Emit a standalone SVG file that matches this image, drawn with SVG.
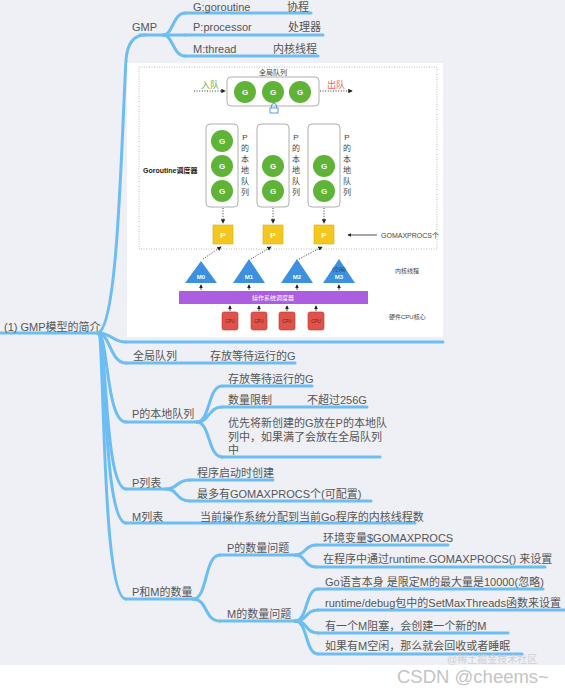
<svg xmlns="http://www.w3.org/2000/svg" width="565" height="691" viewBox="0 0 565 691">
<defs>
<style>
.t{font-family:"Liberation Sans","Noto Sans CJK SC",sans-serif;font-size:11px;fill:#555}
.br{fill:none;stroke:#6cbdf3;stroke-width:3;stroke-linecap:round}
.s{font-family:"Liberation Sans","Noto Sans CJK SC",sans-serif;fill:#444}
.g{fill:#5fb336}
.gt{font-family:"Liberation Sans",sans-serif;font-size:8px;font-weight:bold;fill:#fff;text-anchor:middle}
.q{fill:#fff;stroke:#9a9a9a;stroke-width:0.8}
.pb{fill:#f4c720;stroke:#d9ad10;stroke-width:0.6}
.tri{fill:#3d8fe0}
.cpu{fill:#e0534a;stroke:#b8372e;stroke-width:0.6}
.dot{fill:none;stroke:#222;stroke-width:0.9;stroke-dasharray:1 1.6}
.ar{fill:none;stroke:#222;stroke-width:0.8}
.v{font-family:"Liberation Sans","Noto Sans CJK SC",sans-serif;font-size:8px;fill:#444;text-anchor:middle}
</style>
<marker id="ah" viewBox="0 0 6 6" refX="5" refY="3" markerWidth="5" markerHeight="5" orient="auto"><path d="M0,0 L6,3 L0,6 z" fill="#222"/></marker>
</defs>
<rect x="0" y="0" width="565" height="665" fill="#eff0f5"/>
<rect x="0" y="665" width="565" height="26" fill="#fff"/>

<g id="connectors">
<path class="br" d="M98,333 C118,326 121,150 126,60 Q128,35 145,35"/>
<path class="br" d="M98,333 C112,333 112,342 126,342"/>
<path class="br" d="M98,333 C110,333 110,363 126,363"/>
<path class="br" d="M98,333 C108,333 106,422 126,422"/>
<path class="br" d="M98,333 C107,333 104,489 126,489"/>
<path class="br" d="M98,333 C106,333 103,523 126,523"/>
<path class="br" d="M98,333 C105,333 101,599 126,599"/>
<path class="br" d="M163,35 C173,35 173,13 185,13"/>
<path class="br" d="M163,35 L185,35"/>
<path class="br" d="M163,35 C173,35 173,56 185,56"/>
<path class="br" d="M197,422 C210,422 208,386 222,386"/>
<path class="br" d="M197,422 C210,422 208,407 222,407"/>
<path class="br" d="M197,422 C210,422 208,457 222,457"/>
<path class="br" d="M166,489 C178,489 176,480 190,480"/>
<path class="br" d="M166,489 C178,489 176,501 190,501"/>
<path class="br" d="M193,599 C208,599 204,555 220,555"/>
<path class="br" d="M193,599 C208,599 204,621 220,621"/>
<path class="br" d="M295,555 C306,555 304,545 316,545"/>
<path class="br" d="M295,555 C306,555 304,567 316,567"/>
<path class="br" d="M295,621 C308,621 305,589 318,589"/>
<path class="br" d="M295,621 C308,621 305,610 318,610"/>
<path class="br" d="M295,621 C308,621 305,633 318,633"/>
<path class="br" d="M295,621 C308,621 305,654 318,654"/>
</g>

<g id="root">
<line class="br" x1="1" y1="333" x2="98" y2="333"/>
<text class="t" x="4" y="331">(1) GMP模型的简介</text>
</g>

<g id="gmp">
<line class="br" x1="140" y1="35" x2="163" y2="35"/>
<text class="t" x="132" y="31">GMP</text>
</g>
<g id="g-goroutine">
<line class="br" x1="185" y1="13" x2="311" y2="13"/>
<text class="t" x="193" y="11">G:goroutine</text>
<text class="t" x="287" y="11">协程</text>
</g>
<g id="p-processor">
<line class="br" x1="185" y1="35" x2="323" y2="35"/>
<text class="t" x="193" y="31">P:processor</text>
<text class="t" x="288" y="31">处理器</text>
</g>
<g id="m-thread">
<line class="br" x1="185" y1="56" x2="318" y2="56"/>
<text class="t" x="193" y="53">M:thread</text>
<text class="t" x="273" y="53">内核线程</text>
</g>

<g id="image-node">
<line class="br" x1="126" y1="342" x2="443" y2="342"/>
<rect x="127" y="63" width="316" height="274" fill="#fff"/>
<rect x="139" y="67" width="298" height="182" fill="none" stroke="#aaa" stroke-width="0.8" stroke-dasharray="1 1.5"/>
<text class="s" x="273" y="75" font-size="7" text-anchor="middle">全局队列</text>
<rect class="q" x="227" y="77" width="92" height="29" rx="4"/>
<circle class="g" cx="245" cy="92" r="11"/><text class="gt" x="245" y="95">G</text>
<circle class="g" cx="273" cy="92" r="11"/><text class="gt" x="273" y="95">G</text>
<circle class="g" cx="300" cy="92" r="11"/><text class="gt" x="300" y="95">G</text>
<text class="s" x="201" y="88" font-size="9" style="fill:#6ab04c">入队</text>
<text class="s" x="327" y="88" font-size="9" style="fill:#f06464">出队</text>
<line class="dot" x1="194" y1="91" x2="225" y2="91" marker-end="url(#ah)"/>
<line class="dot" x1="320" y1="91" x2="352" y2="91" marker-end="url(#ah)"/>
<path d="M271.5,108 V106 A2.5,2.5 0 0 1 276.5,106 V108" fill="none" stroke="#4a90e2" stroke-width="0.9"/>
<rect x="270" y="108" width="8" height="5" fill="#fff" stroke="#4a90e2" stroke-width="0.9"/>
<text class="s" x="143" y="173" font-size="7" font-weight="bold" style="fill:#222">Goroutine调度器</text>
<rect class="q" x="206" y="124" width="32" height="83" rx="4"/>
<rect class="q" x="257" y="124" width="32" height="83" rx="4"/>
<rect class="q" x="308" y="124" width="32" height="83" rx="4"/>
<circle class="g" cx="222" cy="141" r="11"/><text class="gt" x="222" y="144">G</text>
<circle class="g" cx="222" cy="166" r="11"/><text class="gt" x="222" y="169">G</text>
<circle class="g" cx="222" cy="191" r="11"/><text class="gt" x="222" y="194">G</text>
<circle class="g" cx="273" cy="166" r="11"/><text class="gt" x="273" y="169">G</text>
<circle class="g" cx="273" cy="191" r="11"/><text class="gt" x="273" y="194">G</text>
<circle class="g" cx="324" cy="166" r="11"/><text class="gt" x="324" y="169">G</text>
<circle class="g" cx="324" cy="191" r="11"/><text class="gt" x="324" y="194">G</text>
<g class="v"><text x="245" y="140">P</text><text x="245" y="151">的</text><text x="245" y="162">本</text><text x="245" y="173">地</text><text x="245" y="184">队</text><text x="245" y="195">列</text></g>
<g class="v"><text x="296" y="140">P</text><text x="296" y="151">的</text><text x="296" y="162">本</text><text x="296" y="173">地</text><text x="296" y="184">队</text><text x="296" y="195">列</text></g>
<g class="v"><text x="347" y="140">P</text><text x="347" y="151">的</text><text x="347" y="162">本</text><text x="347" y="173">地</text><text x="347" y="184">队</text><text x="347" y="195">列</text></g>
<line class="dot" x1="223" y1="208" x2="223" y2="223" marker-end="url(#ah)"/>
<line class="dot" x1="273" y1="208" x2="273" y2="223" marker-end="url(#ah)"/>
<line class="dot" x1="324" y1="208" x2="324" y2="223" marker-end="url(#ah)"/>
<rect class="pb" x="213" y="225" width="20" height="19"/><text class="gt" x="223" y="238">P</text>
<rect class="pb" x="263" y="225" width="20" height="19"/><text class="gt" x="273" y="238">P</text>
<rect class="pb" x="314" y="225" width="20" height="19"/><text class="gt" x="324" y="238">P</text>
<line class="ar" x1="377" y1="235" x2="348" y2="235" marker-end="url(#ah)"/>
<text class="s" x="381" y="238" font-size="7">GOMAXPROCS个</text>
<line class="dot" x1="203" y1="259" x2="221" y2="247" marker-end="url(#ah)"/>
<line class="dot" x1="251" y1="259" x2="271" y2="247" marker-end="url(#ah)"/>
<line class="dot" x1="299" y1="259" x2="322" y2="247" marker-end="url(#ah)"/>
<polygon class="tri" points="201,261 185,283 217,283"/>
<polygon class="tri" points="249,259 233,283 265,283"/>
<polygon class="tri" points="297,259 281,283 313,283"/>
<polygon class="tri" points="339,259 323,283 355,283"/>
<g class="gt" style="font-size:6px"><text x="201" y="279">M0</text><text x="249" y="279">M1</text><text x="297" y="279">M2</text><text x="339" y="279">M3</text></g>
<text x="339" y="271" font-family="Liberation Sans,Noto Sans CJK SC,sans-serif" font-size="5" fill="#1a3a66" text-anchor="middle">(空闲)</text>
<text class="s" x="395" y="273" font-size="6">内核线程</text>
<rect x="179" y="291" width="189" height="13" fill="#ad5de0"/>
<text x="273" y="300" font-family="Liberation Sans,Noto Sans CJK SC,sans-serif" font-size="6" fill="#fff" text-anchor="middle">操作系统调度器</text>
<line class="ar" x1="201" y1="290" x2="201" y2="285" marker-end="url(#ah)"/>
<line class="ar" x1="249" y1="290" x2="249" y2="285" marker-end="url(#ah)"/>
<line class="ar" x1="297" y1="290" x2="297" y2="285" marker-end="url(#ah)"/>
<line class="ar" x1="339" y1="290" x2="339" y2="285" marker-end="url(#ah)"/>
<rect class="cpu" x="222" y="312" width="16" height="18" rx="2"/>
<rect class="cpu" x="251" y="312" width="16" height="18" rx="2"/>
<rect class="cpu" x="279" y="312" width="16" height="18" rx="2"/>
<rect class="cpu" x="308" y="312" width="16" height="18" rx="2"/>
<g font-family="Liberation Sans,sans-serif" font-size="4.5" fill="#7a1a12" text-anchor="middle"><text x="230" y="323">CPU</text><text x="259" y="323">CPU</text><text x="287" y="323">CPU</text><text x="316" y="323">CPU</text></g>
<line class="ar" x1="230" y1="311" x2="230" y2="306" marker-end="url(#ah)"/>
<line class="ar" x1="259" y1="311" x2="259" y2="306" marker-end="url(#ah)"/>
<line class="ar" x1="287" y1="311" x2="287" y2="306" marker-end="url(#ah)"/>
<line class="ar" x1="316" y1="311" x2="316" y2="306" marker-end="url(#ah)"/>
<text class="s" x="389" y="319" font-size="6">硬件CPU核心</text>
</g>

<g id="global-queue">
<line class="br" x1="126" y1="363" x2="295" y2="363"/>
<text class="t" x="133" y="360">全局队列</text>
<text class="t" x="210" y="360">存放等待运行的G</text>
</g>

<g id="p-local-queue">
<line class="br" x1="126" y1="422" x2="197" y2="422"/>
<text class="t" x="132" y="418">P的本地队列</text>
</g>
<g id="plq-1">
<line class="br" x1="222" y1="386" x2="312" y2="386"/>
<text class="t" x="228" y="383">存放等待运行的G</text>
</g>
<g id="plq-2">
<line class="br" x1="222" y1="407" x2="367" y2="407"/>
<text class="t" x="228" y="404">数量限制</text>
<text class="t" x="307" y="404">不超过256G</text>
</g>
<g id="plq-3">
<line class="br" x1="222" y1="457" x2="380" y2="457"/>
<text class="t" x="228" y="427">优先将新创建的G放在P的本地队</text>
<text class="t" x="228" y="441">列中，如果满了会放在全局队列</text>
<text class="t" x="228" y="454">中</text>
</g>

<g id="p-list">
<line class="br" x1="126" y1="489" x2="166" y2="489"/>
<text class="t" x="132" y="487">P列表</text>
</g>
<g id="pl-1">
<line class="br" x1="190" y1="480" x2="273" y2="480"/>
<text class="t" x="197" y="477">程序启动时创建</text>
</g>
<g id="pl-2">
<line class="br" x1="190" y1="501" x2="371" y2="501"/>
<text class="t" x="197" y="498">最多有GOMAXPROCS个(可配置)</text>
</g>

<g id="m-list">
<line class="br" x1="126" y1="523" x2="415" y2="523"/>
<text class="t" x="132" y="521">M列表</text>
<text class="t" x="200" y="521">当前操作系统分配到当前Go程序的内核线程数</text>
</g>

<g id="pm-count">
<line class="br" x1="126" y1="599" x2="193" y2="599"/>
<text class="t" x="132" y="596">P和M的数量</text>
</g>
<g id="p-count">
<line class="br" x1="220" y1="555" x2="295" y2="555"/>
<text class="t" x="227" y="552">P的数量问题</text>
</g>
<g id="pc-1">
<line class="br" x1="316" y1="545" x2="448" y2="545"/>
<text class="t" x="323" y="542">环境变量$GOMAXPROCS</text>
</g>
<g id="pc-2">
<line class="br" x1="316" y1="567" x2="545" y2="567"/>
<text class="t" x="323" y="563">在程序中通过runtime.GOMAXPROCS() 来设置</text>
</g>
<g id="m-count">
<line class="br" x1="220" y1="621" x2="295" y2="621"/>
<text class="t" x="227" y="618">M的数量问题</text>
</g>
<g id="mc-1">
<line class="br" x1="318" y1="589" x2="543" y2="589"/>
<text class="t" x="325" y="586">Go语言本身 是限定M的最大量是10000(忽略)</text>
</g>
<g id="mc-2">
<line class="br" x1="318" y1="610" x2="565" y2="610"/>
<text class="t" x="325" y="607">runtime/debug包中的SetMaxThreads函数来设置</text>
</g>
<g id="mc-3">
<line class="br" x1="318" y1="633" x2="508" y2="633"/>
<text class="t" x="325" y="630">有一个M阻塞，会创建一个新的M</text>
</g>
<g id="mc-4">
<line class="br" x1="318" y1="654" x2="522" y2="654"/>
<text class="t" x="325" y="650">如果有M空闲，那么就会回收或者睡眠</text>
</g>

<g id="watermark">
<text x="447" y="663" font-family="Liberation Sans,Noto Sans CJK SC,sans-serif" font-size="10" fill="#cfcfcf">@稀土掘金技术社区</text>
<text x="397" y="683" font-family="Liberation Sans,sans-serif" font-size="18.5" fill="#c4c4c4">CSDN @cheems~</text>
</g>
</svg>
